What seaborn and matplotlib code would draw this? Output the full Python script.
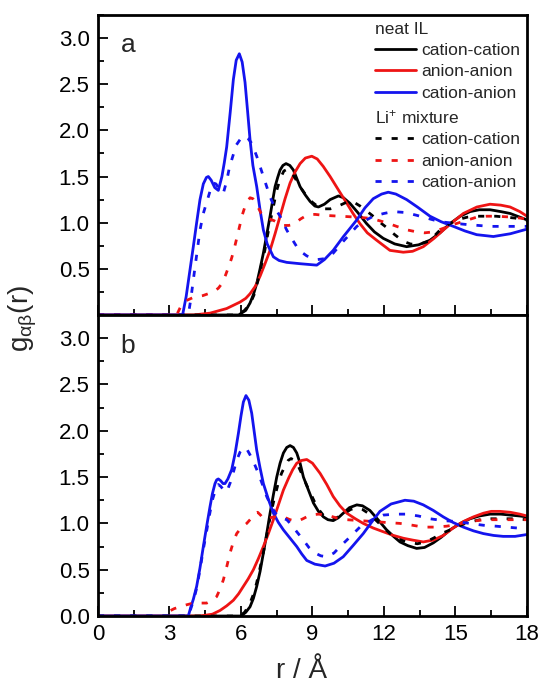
import matplotlib
matplotlib.use("Agg")
import matplotlib.pyplot as plt
from matplotlib.lines import Line2D
from matplotlib.ticker import MultipleLocator
import seaborn as sns

# ---------------- panel a: neat IL (solid) and Li+ mixture (dashed) ----------------
a_cc_neat_r = [0, 5.9, 6.2, 6.38, 6.52, 6.66, 6.8, 6.94, 7.08, 7.22, 7.33, 7.43, 7.54, 7.64, 7.76, 7.89, 8.05,
               8.2, 8.34, 8.48, 8.7, 8.9, 9.1, 9.25, 9.5, 9.74, 10.09, 10.3, 10.57, 10.9, 11.27, 11.6, 11.97,
               12.45, 12.95, 13.45, 13.93, 14.35, 14.77, 15.2, 15.61, 16.0, 16.45, 16.9, 17.29, 17.7, 18]
a_cc_neat_g = [0, 0, 0.05, 0.13, 0.22, 0.34, 0.50, 0.67, 0.87, 1.07, 1.24, 1.39, 1.49, 1.57, 1.62, 1.64, 1.62,
               1.57, 1.48, 1.39, 1.30, 1.23, 1.18, 1.17, 1.20, 1.25, 1.29, 1.27, 1.21, 1.11, 0.99, 0.90, 0.83,
               0.77, 0.74, 0.76, 0.81, 0.89, 0.99, 1.07, 1.12, 1.14, 1.14, 1.12, 1.10, 1.06, 1.03]
a_cc_mix_r = [0, 5.85, 6.15, 6.4, 6.55, 6.7, 6.85, 7.0, 7.12, 7.25, 7.38, 7.5, 7.65, 7.8, 7.95, 8.1, 8.3, 8.5,
              8.75, 9.0, 9.25, 9.5, 9.75, 10.0, 10.25, 10.5, 10.75, 11.0, 11.25, 11.5, 11.8, 12.1, 12.45, 12.8,
              13.1, 13.4, 13.9, 14.35, 14.7, 15.05, 15.5, 15.9, 16.7, 17.5, 18]
a_cc_mix_g = [0, 0, 0.05, 0.13, 0.22, 0.36, 0.53, 0.70, 0.87, 1.04, 1.20, 1.35, 1.48, 1.56, 1.58, 1.55, 1.47, 1.38,
              1.29, 1.22, 1.17, 1.15, 1.15, 1.17, 1.20, 1.23, 1.22, 1.18, 1.13, 1.08, 1.01, 0.95, 0.87, 0.80,
              0.77, 0.76, 0.80, 0.92, 0.98, 1.03, 1.06, 1.07, 1.07, 1.05, 1.02]
a_aa_neat_r = [0, 4.0, 4.7, 5.4, 5.96, 6.2, 6.38, 6.6, 6.8, 7.0, 7.22, 7.43, 7.64, 7.85, 8.06, 8.27, 8.48, 8.7,
               8.97, 9.2, 9.45, 9.74, 10.1, 10.44, 10.7, 10.99, 11.3, 11.69, 12.25, 12.81, 13.2, 13.65, 14.1,
               14.49, 14.9, 15.33, 15.9, 16.45, 16.9, 17.29, 17.7, 18]
a_aa_neat_g = [0, 0, 0.02, 0.07, 0.14, 0.18, 0.23, 0.31, 0.42, 0.55, 0.70, 0.88, 1.07, 1.26, 1.43, 1.55, 1.64, 1.70,
               1.72, 1.69, 1.61, 1.50, 1.35, 1.21, 1.10, 0.99, 0.89, 0.81, 0.70, 0.68, 0.69, 0.74, 0.83,
               0.92, 1.01, 1.10, 1.17, 1.20, 1.19, 1.17, 1.12, 1.07]
a_aa_mix_r = [0, 3.3, 3.45, 3.65, 4.0, 4.4, 4.84, 5.05, 5.2, 5.35, 5.45, 5.6, 5.7, 5.83, 5.96, 6.05, 6.15, 6.27,
              6.38, 6.5, 6.6, 6.73, 6.85, 7.0, 7.2, 7.4, 7.6, 7.78, 8.0, 8.2, 8.5, 8.76, 9.1, 9.46, 10.16, 10.86,
              11.3, 11.69, 12.1, 12.53, 13.0, 13.37, 13.7, 14.07, 14.5, 14.91, 15.4, 15.89, 16.3, 16.7, 17.4, 18]
a_aa_mix_g = [0, 0, 0.08, 0.15, 0.19, 0.21, 0.25, 0.29, 0.34, 0.43, 0.50, 0.61, 0.70, 0.84, 0.98, 1.08, 1.16, 1.23,
              1.27, 1.26, 1.22, 1.16, 1.10, 1.06, 1.04, 1.02, 0.99, 0.97, 0.97, 0.98, 1.04, 1.08, 1.09, 1.08, 1.07, 1.06,
              1.05, 1.03, 1.00, 0.96, 0.92, 0.90, 0.89, 0.90, 0.94, 0.98, 1.02, 1.06, 1.07, 1.07, 1.06, 1.04]
a_ca_neat_r = [0, 3.55, 3.7, 3.85, 4.0, 4.14, 4.28, 4.42, 4.55, 4.63, 4.75, 4.9, 5.05, 5.2, 5.3, 5.4, 5.55,
               5.68, 5.8, 5.93, 6.05, 6.17, 6.28, 6.38, 6.5, 6.66, 6.8, 6.94, 7.1, 7.36, 7.6, 7.92, 8.5, 9.18,
               9.5, 9.87, 10.3, 10.86, 11.2, 11.55, 11.9, 12.18, 12.5, 12.95, 13.4, 13.93, 14.4, 14.91, 15.4,
               15.89, 16.59, 17.3, 18]
a_ca_neat_g = [0, 0, 0.20, 0.47, 0.74, 1.00, 1.25, 1.42, 1.49, 1.50, 1.46, 1.38, 1.35, 1.50, 1.65, 1.82, 2.20,
               2.55, 2.76, 2.83, 2.74, 2.52, 2.20, 1.90, 1.62, 1.39, 1.14, 0.92, 0.77, 0.63, 0.59, 0.57, 0.555, 0.54,
               0.60, 0.70, 0.85, 1.03, 1.16, 1.26, 1.31, 1.33, 1.31, 1.25, 1.17, 1.07, 1.01, 0.96, 0.91,
               0.87, 0.85, 0.88, 0.93]
a_ca_mix_r = [0, 3.79, 3.9, 4.0, 4.14, 4.28, 4.42, 4.56, 4.7, 4.84, 4.95, 5.1, 5.26, 5.4, 5.5, 5.61, 5.8, 5.96,
              6.13, 6.3, 6.45, 6.66, 6.8, 6.94, 7.22, 7.42, 7.64, 7.92, 8.1, 8.34, 8.55, 8.76, 9.2, 9.5, 9.87,
              10.3, 10.86, 11.2, 11.55, 12.0, 12.39, 12.9, 13.37, 14.35, 15.47, 16.45, 17.42, 18]
a_ca_mix_g = [0, 0, 0.18, 0.38, 0.65, 0.92, 1.10, 1.22, 1.34, 1.43, 1.42, 1.36, 1.32, 1.45, 1.58, 1.68, 1.84, 1.90,
              1.94, 1.91, 1.86, 1.72, 1.61, 1.50, 1.28, 1.16, 1.07, 0.92, 0.84, 0.74, 0.68, 0.64, 0.60, 0.61, 0.67,
              0.80, 0.96, 1.02, 1.07, 1.10, 1.12, 1.11, 1.08, 1.01, 0.98, 0.96, 0.96, 0.96]

# ---------------- panel b ----------------
b_cc_neat_r = [0, 6.0, 6.2, 6.38, 6.52, 6.66, 6.8, 6.94, 7.08, 7.22, 7.36, 7.5, 7.64, 7.78, 7.92, 8.06, 8.2,
               8.34, 8.48, 8.62, 8.83, 9.04, 9.25, 9.46, 9.65, 9.87, 10.08, 10.29, 10.55, 10.86, 11.1, 11.41,
               11.75, 12.11, 12.4, 12.67, 13.0, 13.37, 13.7, 14.07, 14.4, 14.77, 15.2, 15.61, 16.0, 16.45,
               16.9, 17.29, 17.7, 18]
b_cc_neat_g = [0, 0, 0.04, 0.10, 0.19, 0.32, 0.48, 0.68, 0.89, 1.11, 1.31, 1.50, 1.65, 1.76, 1.82, 1.84, 1.82,
               1.76, 1.65, 1.50, 1.36, 1.22, 1.13, 1.07, 1.04, 1.03, 1.06, 1.11, 1.17, 1.20, 1.19, 1.14,
               1.04, 0.93, 0.86, 0.80, 0.76, 0.73, 0.74, 0.79, 0.85, 0.93, 1.00, 1.05, 1.08, 1.10,
               1.10, 1.09, 1.08, 1.07]
b_cc_mix_r = [0, 5.95, 6.15, 6.35, 6.5, 6.65, 6.8, 6.95, 7.1, 7.25, 7.4, 7.55, 7.7, 7.85, 7.98, 8.1, 8.25, 8.4,
              8.58, 8.76, 9.0, 9.2, 9.45, 9.7, 10.0, 10.3, 10.6, 10.86, 11.1, 11.4, 11.8, 12.25, 12.6, 12.95,
              13.4, 13.75, 14.07, 14.5, 15.05, 15.5, 16.03, 16.5, 17.0, 17.5, 18]
b_cc_mix_g = [0, 0, 0.04, 0.12, 0.22, 0.35, 0.52, 0.70, 0.90, 1.10, 1.27, 1.42, 1.54, 1.62, 1.68, 1.70, 1.68, 1.62,
              1.52, 1.41, 1.28, 1.17, 1.09, 1.05, 1.06, 1.10, 1.15, 1.17, 1.15, 1.10, 1.00, 0.89, 0.83, 0.80,
              0.78, 0.80, 0.84, 0.90, 0.96, 1.01, 1.04, 1.05, 1.05, 1.05, 1.04]
b_aa_neat_r = [0, 4.28, 4.8, 5.12, 5.4, 5.68, 5.9, 6.1, 6.3, 6.52, 6.73, 6.94, 7.15, 7.36, 7.57, 7.78, 8.0,
               8.17, 8.34, 8.55, 8.76, 9.0, 9.32, 9.6, 9.87, 10.15, 10.44, 10.8, 11.13, 11.55, 11.97, 12.4,
               12.81, 13.2, 13.65, 14.07, 14.49, 14.9, 15.33, 15.75, 16.17, 16.5, 16.87, 17.3, 17.7, 18]
b_aa_neat_g = [0, 0, 0.02, 0.06, 0.11, 0.17, 0.24, 0.32, 0.40, 0.50, 0.62, 0.75, 0.89, 1.04, 1.20, 1.36, 1.49,
               1.58, 1.65, 1.68, 1.69, 1.65, 1.54, 1.42, 1.29, 1.19, 1.11, 1.05, 1.00, 0.95, 0.91, 0.87,
               0.84, 0.82, 0.80, 0.82, 0.87, 0.95, 1.02, 1.07, 1.11, 1.13, 1.13, 1.12, 1.10, 1.08]
b_aa_mix_r = [3.05, 3.2, 3.44, 3.7, 4.0, 4.3, 4.56, 4.8, 4.98, 5.12, 5.26, 5.4, 5.54, 5.68, 5.82, 6.0, 6.24,
              6.45, 6.6, 6.7, 6.82, 6.94, 7.1, 7.36, 7.78, 8.06, 8.34, 8.6, 8.9, 9.25, 9.6, 10.0, 10.44, 11.0,
              11.55, 12.1, 12.67, 13.2, 13.65, 14.1, 14.63, 15.1, 15.61, 16.2, 16.73, 17.4, 18]
b_aa_mix_g = [0.06, 0.08, 0.10, 0.12, 0.14, 0.14, 0.14, 0.17, 0.21, 0.29, 0.39, 0.53, 0.68, 0.80, 0.89, 0.95, 1.00,
              1.06, 1.11, 1.12, 1.09, 1.05, 1.05, 1.07, 1.07, 1.04, 1.02, 1.05, 1.09, 1.10, 1.09, 1.06, 1.04, 1.03,
              1.02, 1.01, 1.00, 0.98, 0.96, 0.96, 0.97, 0.99, 1.02, 1.04, 1.04, 1.04, 1.04]
b_ca_neat_r = [0, 3.79, 3.9, 4.0, 4.14, 4.28, 4.42, 4.56, 4.7, 4.8, 4.91, 4.98, 5.05, 5.15, 5.25, 5.33, 5.45,
               5.61, 5.75, 5.89, 6.0, 6.1, 6.21, 6.33, 6.45, 6.55, 6.66, 6.8, 6.94, 7.15, 7.36, 7.57, 7.78, 8.06,
               8.34, 8.55, 8.76, 9.1, 9.53, 9.9, 10.29, 10.7, 11.13, 11.5, 11.83, 12.3, 12.88, 13.25, 13.65,
               14.07, 14.49, 14.9, 15.33, 15.75, 16.17, 16.6, 17.0, 17.5, 18]
b_ca_neat_g = [0, 0, 0.10, 0.18, 0.32, 0.52, 0.75, 0.97, 1.18, 1.32, 1.43, 1.47, 1.48, 1.46, 1.43, 1.43, 1.48,
               1.58, 1.75, 1.97, 2.16, 2.31, 2.38, 2.33, 2.19, 2.00, 1.79, 1.60, 1.43, 1.26, 1.11, 1.01, 0.93, 0.84,
               0.75, 0.67, 0.60, 0.56, 0.54, 0.57, 0.64, 0.76, 0.89, 1.02, 1.13, 1.21, 1.25, 1.24, 1.20,
               1.14, 1.07, 1.01, 0.96, 0.92, 0.89, 0.87, 0.86, 0.86, 0.88]
b_ca_mix_r = [0, 3.8, 3.92, 4.0, 4.14, 4.28, 4.42, 4.56, 4.7, 4.82, 4.95, 5.05, 5.15, 5.28, 5.4, 5.55, 5.7, 5.82,
              5.96, 6.1, 6.25, 6.38, 6.55, 6.73, 6.9, 7.08, 7.3, 7.5, 7.7, 7.92, 8.1, 8.34, 8.62, 8.85, 9.11,
              9.35, 9.6, 9.9, 10.16, 10.6, 10.99, 11.5, 11.97, 12.5, 12.95, 13.45, 13.93, 14.5, 15.05, 15.6,
              16.17, 16.7, 17.15, 17.6, 18]
b_ca_mix_g = [0, 0, 0.10, 0.16, 0.30, 0.50, 0.72, 0.92, 1.12, 1.27, 1.38, 1.42, 1.40, 1.36, 1.34, 1.44, 1.57, 1.68,
              1.77, 1.82, 1.80, 1.74, 1.65, 1.54, 1.42, 1.29, 1.17, 1.09, 1.06, 1.04, 0.99, 0.91, 0.82, 0.74, 0.68,
              0.65, 0.64, 0.68, 0.75, 0.86, 0.96, 1.04, 1.09, 1.10, 1.10, 1.08, 1.05, 1.03, 1.02, 1.00,
              0.98, 0.97, 0.96, 0.95, 0.95]

pair_labels = ["cation-cation", "anion-anion", "cation-anion"]
pair_colors = ["#000000", "#ee1414", "#1414ee"]
x_ticks = [0, 3, 6, 9, 12, 15, 18]

SOLID = "-"
DASHED = (0, (2.2, 3.6))
LW = 2.0

sns.set_theme(style="ticks")
plt.rcParams["font.family"] = ["Liberation Sans", "DejaVu Sans"]
plt.rcParams["mathtext.fontset"] = "custom"
plt.rcParams["mathtext.rm"] = "Liberation Sans"
plt.rcParams["mathtext.it"] = "Liberation Sans:italic"
plt.rcParams["mathtext.default"] = "regular"

fig = plt.figure(figsize=(5.41, 6.87), dpi=100)
ax_a = fig.add_axes([0.1811, 0.5415, 0.793, 0.4367])
ax_b = fig.add_axes([0.1811, 0.1033, 0.793, 0.4382])

panel_a = [
    (a_cc_neat_r, a_cc_neat_g, 0, SOLID), (a_aa_neat_r, a_aa_neat_g, 1, SOLID), (a_ca_neat_r, a_ca_neat_g, 2, SOLID),
    (a_cc_mix_r, a_cc_mix_g, 0, DASHED), (a_aa_mix_r, a_aa_mix_g, 1, DASHED), (a_ca_mix_r, a_ca_mix_g, 2, DASHED),
]
panel_b = [
    (b_cc_neat_r, b_cc_neat_g, 0, SOLID), (b_aa_neat_r, b_aa_neat_g, 1, SOLID), (b_ca_neat_r, b_ca_neat_g, 2, SOLID),
    (b_cc_mix_r, b_cc_mix_g, 0, DASHED), (b_aa_mix_r, b_aa_mix_g, 1, DASHED), (b_ca_mix_r, b_ca_mix_g, 2, DASHED),
]

for ax, curves in ((ax_a, panel_a), (ax_b, panel_b)):
    for r, g, k, ls in curves:
        sns.lineplot(x=r, y=g, ax=ax, color=pair_colors[k], linewidth=LW, linestyle=ls,
                     sort=False, estimator=None, legend=False)
    ax.set_xlim(0, 18)
    ax.set_ylim(0, 3.25)
    ax.set_xticks(x_ticks)
    ax.xaxis.set_minor_locator(MultipleLocator(1.5))
    ax.yaxis.set_minor_locator(MultipleLocator(0.25))
    ax.tick_params(which="both", direction="in", bottom=True, left=True, top=False, right=False,
                   width=1.3, color="black", labelsize=16, labelcolor="black")
    ax.tick_params(which="major", length=7, pad=6)
    ax.tick_params(which="minor", length=4)
    for sp in ax.spines.values():
        sp.set_linewidth(2.0)
        sp.set_color("black")
        sp.set_visible(True)
    ax.set_xlabel("")
    ax.set_ylabel("")

ax_a.set_yticks([0.5, 1.0, 1.5, 2.0, 2.5, 3.0])
ax_a.set_yticklabels(["0.5", "1.0", "1.5", "2.0", "2.5", "3.0"])
ax_a.tick_params(labelbottom=False)
ax_b.set_yticks([0.0, 0.5, 1.0, 1.5, 2.0, 2.5, 3.0])
ax_b.set_yticklabels(["0.0", "0.5", "1.0", "1.5", "2.0", "2.5", "3.0"])
ax_b.set_xticklabels([str(t) for t in x_ticks])

ax_a.text(0.95, 2.92, "a", fontsize=19, ha="left", va="center")
ax_b.text(0.95, 2.92, "b", fontsize=19, ha="left", va="center")

# two-block legend: neat IL (solid), Li+ mixture (dashed)
leg_kw = dict(loc="upper left", frameon=False, alignment="left", fontsize=12.5, title_fontsize=12.5,
              handlelength=2.4, handletextpad=0.3, labelspacing=0.36, borderpad=0, borderaxespad=0)
h_neat = [Line2D([], [], color=c, lw=LW, ls=SOLID) for c in pair_colors]
h_mix = [Line2D([], [], color=c, lw=LW, ls=DASHED) for c in pair_colors]
leg1 = ax_a.legend(handles=h_neat, labels=pair_labels, title="neat IL",
                   bbox_to_anchor=(0.645, 0.978), **leg_kw)
ax_a.add_artist(leg1)
ax_a.legend(handles=h_mix, labels=pair_labels, title="Li$^{+}$ mixture",
            bbox_to_anchor=(0.645, 0.69), **leg_kw)

fig.text(0.043, 0.537, r"g$_{\alpha\beta}$(r)", rotation=90, fontsize=20, ha="center", va="center")
fig.text(0.558, 0.024, "r / Å", fontsize=20, ha="center", va="center")

fig.savefig("out.png", dpi=100)
